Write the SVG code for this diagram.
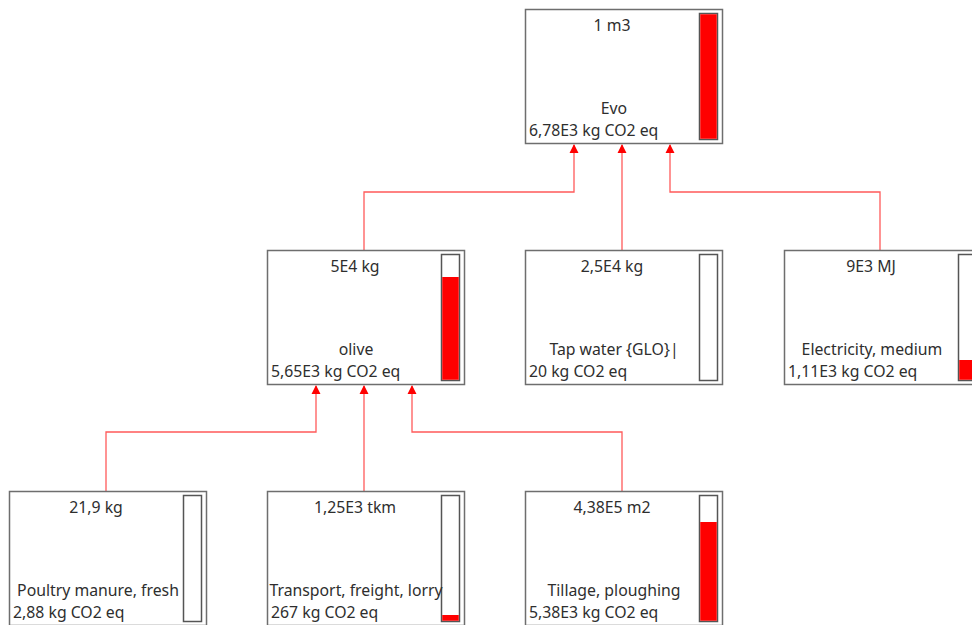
<svg xmlns="http://www.w3.org/2000/svg" width="972" height="625" viewBox="0 0 972 625">
<style>
.box{fill:#fff;stroke:#6e6e6e;stroke-width:1.5}
.bar{fill:#fff;stroke:#555;stroke-width:1.5}
.fill{fill:#ff0000}
.t{font-family:"Noto Sans","Open Sans",sans-serif;font-size:15.8px;fill:#2e2e2e}
.c{text-anchor:middle}
.con{fill:none;stroke:#ff5a5a;stroke-width:1.3}
.ah{fill:#ff0000}
</style>
<rect width="972" height="625" fill="#fff"/>
<g id="connectors">
<path class="con" d="M364,250 V192 H574 V145"/>
<path class="con" d="M622,250 V145"/>
<path class="con" d="M880,250 V192 H670 V145"/>
<path class="con" d="M106,491 V432 H316 V386"/>
<path class="con" d="M364,491 V386"/>
<path class="con" d="M622,491 V432 H412 V386"/>
<path class="ah" d="M574,144 l-4.5,9 h9 z M622,144 l-4.5,9 h9 z M670,144 l-4.5,9 h9 z M316,385 l-4.5,9 h9 z M364,385 l-4.5,9 h9 z M412,385 l-4.5,9 h9 z"/>
</g>
<g id="evo">
<rect class="box" x="525.5" y="9.5" width="197" height="134"/>
<rect class="bar" x="699.5" y="13.5" width="18" height="126"/>
<rect class="fill" x="700.25" y="14.25" width="16.5" height="124.5"/>
<text class="t c" x="612" y="31">1 m3</text>
<text class="t c" x="614" y="114">Evo</text>
<text class="t" x="529" y="136">6,78E3 kg CO2 eq</text>
</g>
<g id="olive">
<rect class="box" x="267.5" y="250.5" width="197" height="134"/>
<rect class="bar" x="441.5" y="254.5" width="18" height="126"/>
<rect class="fill" x="442.25" y="277" width="16.5" height="102.75"/>
<text class="t c" x="355" y="272">5E4 kg</text>
<text class="t c" x="356" y="355">olive</text>
<text class="t" x="271" y="377">5,65E3 kg CO2 eq</text>
</g>
<g id="tapwater">
<rect class="box" x="525.5" y="250.5" width="197" height="134"/>
<rect class="bar" x="699.5" y="254.5" width="18" height="126"/>
<text class="t c" x="612" y="272">2,5E4 kg</text>
<text class="t c" x="614" y="355">Tap water {GLO}|</text>
<text class="t" x="529" y="377">20 kg CO2 eq</text>
</g>
<g id="electricity">
<rect class="box" x="784.5" y="250.5" width="197" height="134"/>
<rect class="bar" x="958.5" y="254.5" width="18" height="126"/>
<rect class="fill" x="959.25" y="360" width="16.5" height="19.75"/>
<text class="t c" x="871" y="272">9E3 MJ</text>
<text class="t c" x="872" y="355">Electricity, medium</text>
<text class="t" x="788" y="377">1,11E3 kg CO2 eq</text>
</g>
<g id="poultry">
<rect class="box" x="9.5" y="491.5" width="197" height="134"/>
<rect class="bar" x="183.5" y="495.5" width="18" height="126"/>
<text class="t c" x="96" y="513">21,9 kg</text>
<text class="t c" x="98" y="596">Poultry manure, fresh</text>
<text class="t" x="13" y="618">2,88 kg CO2 eq</text>
</g>
<g id="transport">
<rect class="box" x="267.5" y="491.5" width="197" height="134"/>
<rect class="bar" x="441.5" y="495.5" width="18" height="126"/>
<rect class="fill" x="442.25" y="615" width="16.5" height="5.75"/>
<text class="t c" x="355" y="513">1,25E3 tkm</text>
<text class="t c" x="356" y="596">Transport, freight, lorry</text>
<text class="t" x="271" y="618">267 kg CO2 eq</text>
</g>
<g id="tillage">
<rect class="box" x="525.5" y="491.5" width="197" height="134"/>
<rect class="bar" x="699.5" y="495.5" width="18" height="126"/>
<rect class="fill" x="700.25" y="522" width="16.5" height="98.75"/>
<text class="t c" x="612" y="513">4,38E5 m2</text>
<text class="t c" x="614" y="596">Tillage, ploughing</text>
<text class="t" x="529" y="618">5,38E3 kg CO2 eq</text>
</g>
</svg>
